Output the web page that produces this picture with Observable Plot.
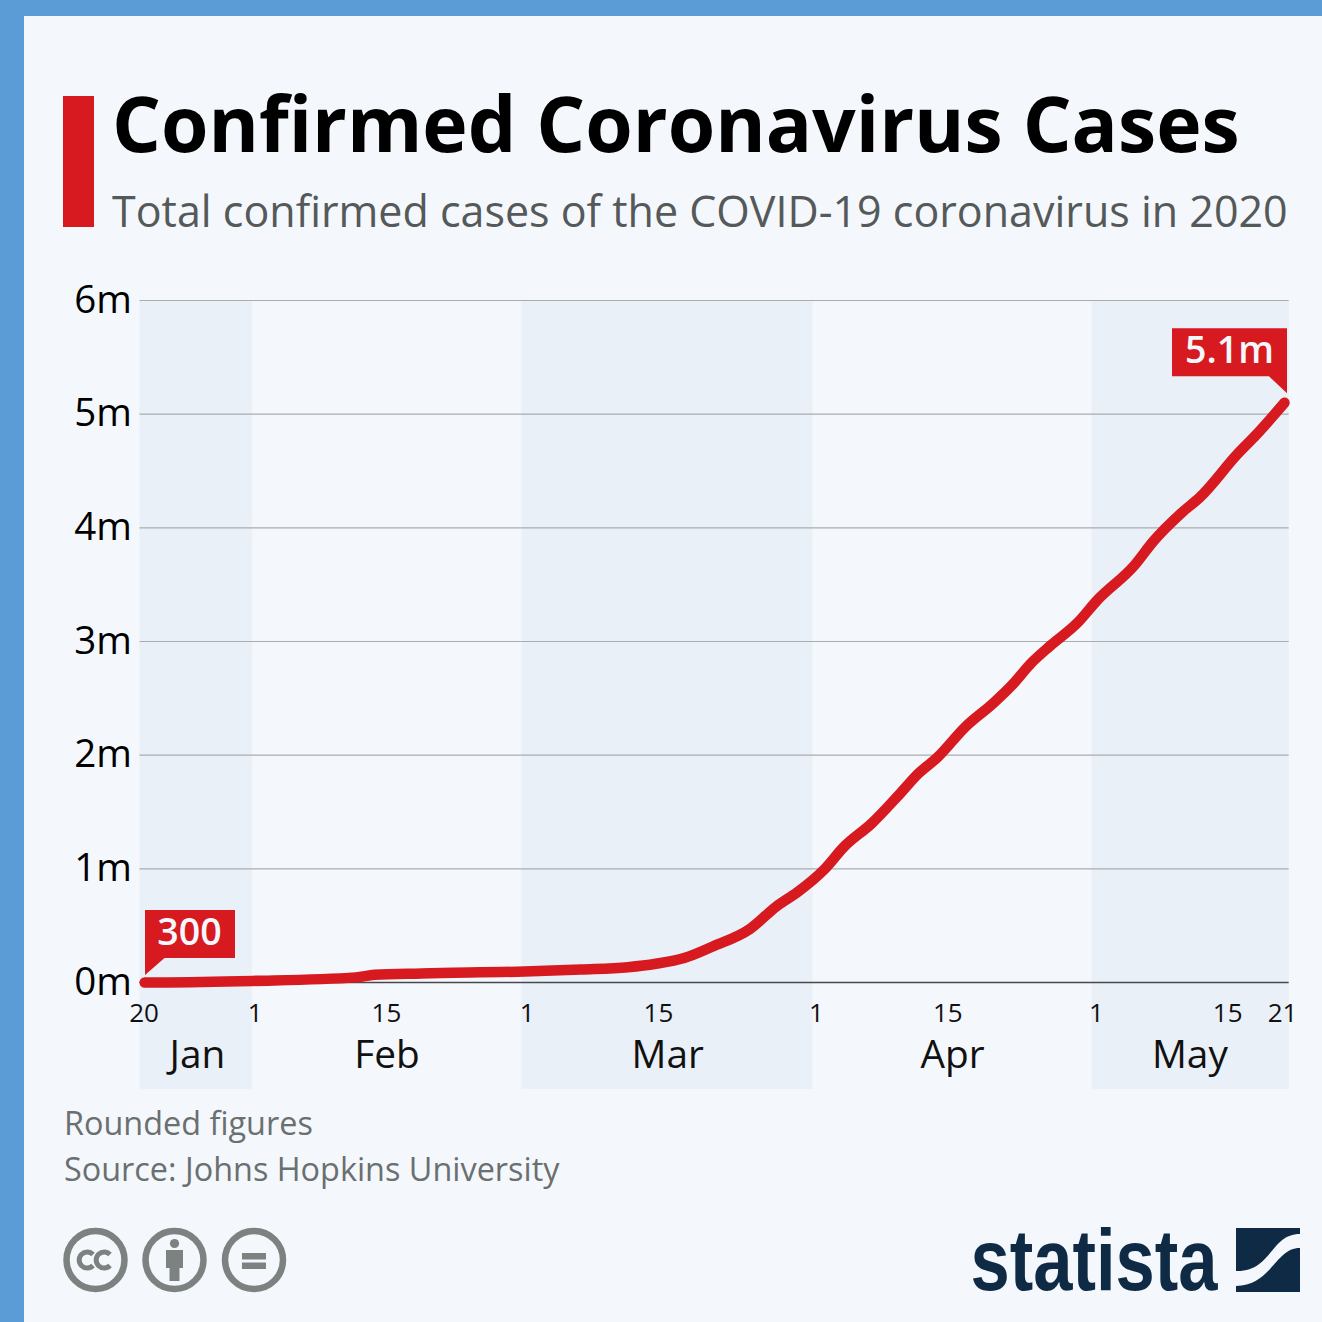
<!DOCTYPE html>
<html lang="en">
<head>
<meta charset="utf-8">
<title>Confirmed Coronavirus Cases</title>
<script src="https://cdn.jsdelivr.net/npm/d3@7"></script>
<script src="https://cdn.jsdelivr.net/npm/@observablehq/plot@0.6"></script>
<style>
  html, body { margin: 0; padding: 0; background: #5b9bd6; }
  #page { position: relative; width: 1322px; height: 1322px; overflow: hidden; background: #5b9bd6; font-family: "Open Sans", sans-serif; }
  #panel { position: absolute; left: 24px; top: 16px; right: 0; bottom: 0; background: #f4f8fc; }
  #bar { position: absolute; left: 63px; top: 96px; width: 31px; height: 131px; background: #d71920; }
  h1 { position: absolute; left: 112px; top: 70.5px; margin: 0; font-size: 76.8px; line-height: 104px; font-weight: 700; color: #000; white-space: nowrap; }
  #sub { position: absolute; left: 112px; top: 181px; margin: 0; font-size: 43px; line-height: 60px; color: #55595a; white-space: nowrap; }
  #chart { position: absolute; left: 0; top: 270px; }
  .foot { position: absolute; left: 64px; margin: 0; font-size: 32.4px; line-height: 44px; color: #6a6f70; white-space: nowrap; }
  #marks { position: absolute; left: 0; top: 0; }
</style>
</head>
<body>
<div id="page">
  <div id="panel"></div>
  <div id="bar"></div>
  <h1>Confirmed Coronavirus Cases</h1>
  <p id="sub">Total confirmed cases of the COVID-19 coronavirus in 2020</p>
  <div id="chart"></div>
  <p class="foot" style="top:1100px">Rounded figures</p>
  <p class="foot" style="top:1146px">Source: Johns Hopkins University</p>
  <svg id="marks" width="1322" height="1322" viewBox="0 0 1322 1322" aria-label="Creative Commons and Statista logos">
    <g fill="none" stroke="#7c8280" stroke-width="6.5">
      <circle cx="95.5" cy="1260" r="29"/>
      <circle cx="174.5" cy="1260" r="29"/>
      <circle cx="254" cy="1260" r="29"/>
      <path d="M93,1254.5 A8,8 0 1 0 93,1265.5" stroke-width="5"/>
      <path d="M110,1254.5 A8,8 0 1 0 110,1265.5" stroke-width="5"/>
    </g>
    <g fill="#7c8280">
      <circle cx="174.5" cy="1243.5" r="4.6"/>
      <path d="M166,1250 H183 V1268 H179.5 V1281 H169.5 V1268 H166 Z"/>
      <rect x="242" y="1253" width="24" height="6.5"/>
      <rect x="242" y="1262.5" width="24" height="6.5"/>
    </g>
    <text x="970.5" y="1290" font-family="'Liberation Sans Narrow','Liberation Sans',sans-serif" font-weight="700" font-size="88" fill="#0f2a44" textLength="247" lengthAdjust="spacingAndGlyphs">statista</text>
    <path fill="#0f2a44" d="M1236,1228 H1300 V1234 C1270,1234 1272,1272 1236,1271 Z"/>
    <path fill="#0f2a44" d="M1300,1248 C1275,1248 1272,1285 1236,1286 V1292 H1300 Z"/>
  </svg>
</div>
<script>
const caseDates = ["2020-01-20T12:00","2020-01-22","2020-02-01","2020-02-12","2020-02-14","2020-02-19","2020-03-01","2020-03-07","2020-03-12","2020-03-15","2020-03-18","2020-03-21","2020-03-25","2020-03-28","2020-03-30","2020-04-02","2020-04-04","2020-04-07","2020-04-10","2020-04-12","2020-04-14","2020-04-17","2020-04-20","2020-04-22","2020-04-24","2020-04-26","2020-04-29","2020-05-01","2020-05-05","2020-05-07","2020-05-10","2020-05-12","2020-05-16","2020-05-18","2020-05-21"];
const caseMillions = [0.0003,0.0006,0.014,0.045,0.068,0.08,0.097,0.115,0.135,0.165,0.215,0.315,0.47,0.68,0.79,1.0,1.19,1.40,1.66,1.84,1.98,2.25,2.46,2.62,2.81,2.96,3.17,3.36,3.67,3.88,4.13,4.27,4.65,4.82,5.1];

const yTicks = [0,1,2,3,4,5,6];
const febMarTicks = ["2020-02-01","2020-02-15","2020-03-01","2020-03-15"];
const aprTicks = ["2020-04-01","2020-04-15"];
const mayTicks = ["2020-05-01","2020-05-15"];
const firstTick = ["2020-01-20"];
const lastTick = ["2020-05-21"];

// Alternating month bands, with edges as they appear in the picture
const bandStarts = ["2020-01-20","2020-02-29T17:00","2020-04-30T12:00"];
const bandEnds   = ["2020-02-01","2020-03-31T18:00","2020-05-21T12:00"];
const bandFloor = -0.94;

const monthNames = ["Jan","Feb","Mar","Apr","May"];
const monthLabelDates = ["2020-01-26T03:00","2020-02-15T08:00","2020-03-16T06:00","2020-04-15T15:00","2020-05-10T22:00"];
const monthLabelLevel = -0.64;
const tickLabelLevel = -0.27;

const gridStart = "2020-01-20";
const gridEnd = "2020-05-21T12:00";

const callouts = [
  {date: "2020-01-20", value: 0.0003, label: "300", side: "right"},
  {date: "2020-05-21", value: 5.1, label: "5.1m", side: "left"}
];

const d = s => new Date(s.length > 10 ? s + "Z" : s);
const series = caseDates.map((s, i) => ({date: d(s), value: caseMillions[i]}));
const bands = bandStarts.map((s, i) => ({x1: d(s), x2: d(bandEnds[i])}));
const RED = "#d71920";
const dayFormat = d3.utcFormat("%-d");

function calloutMark(index, {x, y}) {
  const g = d3.create("svg:g");
  for (const c of callouts) {
    const cx = x(d(c.date)), cy = y(c.value);
    const right = c.side === "right";
    const item = g.append("g").attr("transform", `translate(${cx},${cy})`);
    item.append("path").attr("fill", RED).attr("d", right
      ? "M5.5,-72 H95.5 V-24 H25 L5.5,-7 Z"
      : "M-112,-74 H3 V-9 L-15,-26 H-112 Z");
    item.append("text")
      .attr("x", right ? 50 : -54.5)
      .attr("y", right ? -37 : -39.5)
      .attr("text-anchor", "middle")
      .attr("fill", "#f4f8fc")
      .attr("font-size", 37.5)
      .attr("font-weight", 600)
      .text(c.label);
  }
  return g.node();
}

const tickText = (dates, dx) => Plot.text(dates.map(d), {x: v => v, y: tickLabelLevel, text: dayFormat, dx, fontSize: 26, fill: "#111", textAnchor: "middle"});

const plot = Plot.plot({
  width: 1322,
  height: 830,
  marginLeft: 139.5,
  marginRight: 38,
  marginTop: 30,
  marginBottom: 118,
  style: {background: "transparent", fontFamily: "'Open Sans', sans-serif", color: "#000", overflow: "visible"},
  x: {type: "utc", domain: [d("2020-01-20"), d("2020-05-21")], axis: null},
  y: {domain: [0, 6]},
  marks: [
    Plot.rect(bands, {x1: "x1", x2: "x2", y1: bandFloor, y2: 6, fill: "#eaf0f7"}),
    Plot.ruleY(yTicks.filter(t => t > 0), {x1: d(gridStart), x2: d(gridEnd), stroke: "#a9adb0", strokeWidth: 1.2}),
    Plot.ruleY([0], {x1: d(gridStart), x2: d(gridEnd), stroke: "#444a4c", strokeWidth: 1.6}),
    Plot.axisY({ticks: yTicks, tickSize: 0, tickPadding: 8, tickFormat: v => v + "m", fontSize: 38.5, label: null, stroke: "none", fill: "#000"}),
    tickText(febMarTicks, 2.5),
    tickText(aprTicks, 1),
    tickText(mayTicks, -0.5),
    tickText(firstTick, 4),
    tickText(lastTick, -2),
    Plot.text(monthNames, {x: (m, i) => d(monthLabelDates[i]), y: monthLabelLevel, text: m => m, fontSize: 38.8, fill: "#111", textAnchor: "middle"}),
    Plot.lineY(series, {x: "date", y: "value", stroke: RED, strokeWidth: 10.5, strokeLinecap: "round", strokeLinejoin: "round", curve: "monotone-x"}),
    calloutMark
  ]
});
document.getElementById("chart").appendChild(plot);
</script>
</body>
</html>
